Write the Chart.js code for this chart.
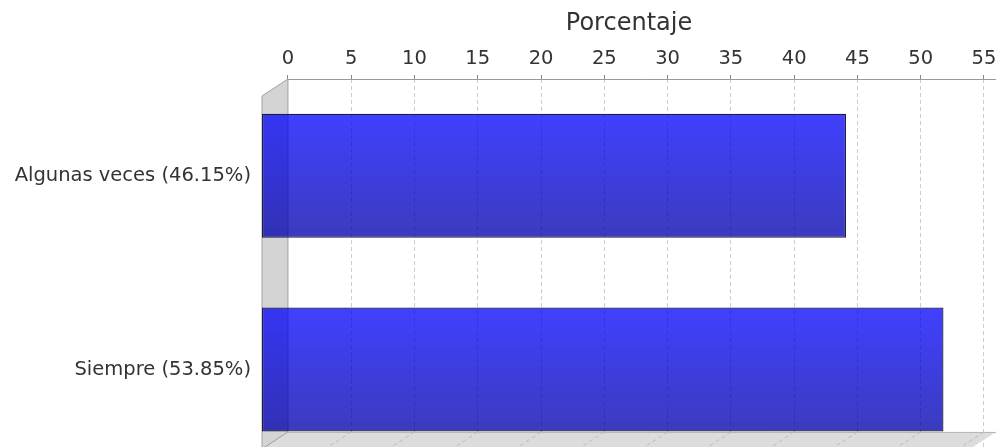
<!DOCTYPE html>
<html>
<head>
<meta charset="utf-8">
<script src="https://cdn.jsdelivr.net/npm/chart.js@4.4.0/dist/chart.umd.min.js"></script>
<style>
  html, body { margin: 0; padding: 0; background: #fff; overflow: hidden; }
</style>
</head>
<body>
<canvas id="respuestasChart" width="996" height="447"></canvas>
<script>
const categorias = ['Algunas veces (46.15%)', 'Siempre (53.85%)'];
const porcentajes = [46.15, 53.85];
const ticksPorcentaje = [0, 5, 10, 15, 20, 25, 30, 35, 40, 45, 50, 55];

// profundidad del efecto 3D (pared del fondo vs cara frontal)
const DEPTH_Y = 17;
const BAR_PCT = 0.64;
const FRONT_MAX = 1.41;

const respuestasChart = document.getElementById('respuestasChart');
Chart.defaults.font.family = "'DejaVu Sans', sans-serif";
Chart.defaults.color = '#333333';

function barGradient(context) {
  const chart = context.chart;
  const y = chart.scales.y;
  if (!y || !chart.chartArea) return 'rgba(0,0,255,0.75)';
  const center = y.getPixelForValue(context.dataIndex);
  const half = Math.abs(y.getPixelForValue(1) - y.getPixelForValue(0)) * BAR_PCT / 2;
  const g = chart.ctx.createLinearGradient(0, center - half, 0, center + half);
  g.addColorStop(0, 'rgba(0,0,255,0.75)');
  g.addColorStop(1, 'rgba(0,0,170,0.77)');
  return g;
}

const paredes3D = {
  id: 'paredes3D',
  beforeDatasetsDraw(chart) {
    const {ctx, chartArea, scales} = chart;
    const back = scales.x2.getPixelForValue(0);
    const front = scales.x.getPixelForValue(0);
    const dx = back - front;
    const top = chartArea.top;
    const right = chartArea.right;
    const floorBack = scales.y.getPixelForValue(FRONT_MAX) - DEPTH_Y;

    ctx.save();
    // suelo
    ctx.fillStyle = '#dcdcdc';
    ctx.beginPath();
    ctx.moveTo(front, floorBack + DEPTH_Y);
    ctx.lineTo(back, floorBack);
    ctx.lineTo(right, floorBack);
    ctx.lineTo(right - dx, floorBack + DEPTH_Y);
    ctx.closePath();
    ctx.fill();
    ctx.strokeStyle = '#b4b4b4';
    ctx.lineWidth = 1;
    ctx.beginPath();
    ctx.moveTo(back, floorBack + 0.5);
    ctx.lineTo(right, floorBack + 0.5);
    ctx.stroke();

    // lineas de rejilla en el suelo
    ctx.setLineDash([4, 3]);
    ctx.strokeStyle = '#bcbcbc';
    ticksPorcentaje.forEach(v => {
      const xb = scales.x2.getPixelForValue(v);
      ctx.beginPath();
      ctx.moveTo(xb, floorBack);
      ctx.lineTo(xb - dx, floorBack + DEPTH_Y);
      ctx.stroke();
    });
    ctx.setLineDash([]);

    // pared izquierda
    ctx.fillStyle = '#d4d4d4';
    ctx.beginPath();
    ctx.moveTo(front, top + DEPTH_Y);
    ctx.lineTo(back, top);
    ctx.lineTo(back, floorBack);
    ctx.lineTo(front, floorBack + DEPTH_Y);
    ctx.closePath();
    ctx.fill();
    ctx.strokeStyle = '#a0a0a0';
    ctx.stroke();

    // linea del eje superior
    ctx.strokeStyle = '#999999';
    ctx.beginPath();
    ctx.moveTo(back, top + 0.5);
    ctx.lineTo(right, top + 0.5);
    ctx.stroke();
    ctx.restore();
  }
};

new Chart(respuestasChart, {
  type: 'bar',
  data: {
    datasets: [
      {
        label: 'Porcentaje',
        data: porcentajes.map((v, i) => ({x: v, y: i})),
        backgroundColor: barGradient,
        borderColor: '#1e1e3c',
        borderWidth: 1.2,
        borderSkipped: false,
        barPercentage: BAR_PCT,
        categoryPercentage: 1
      }
    ]
  },
  options: {
    indexAxis: 'y',
    responsive: false,
    animation: false,
    layout: { padding: 0, autoPadding: false },
    scales: {
      x: { type: 'linear', min: 0, max: 58, display: false },
      x2: {
        type: 'linear',
        position: 'top',
        min: -2.05,
        max: 55.95,
        afterBuildTicks: s => { s.ticks = ticksPorcentaje.map(v => ({value: v})); },
        afterFit: s => { s.height = 79; s.paddingLeft = 0; s.paddingRight = 0; },
        ticks: { font: { size: 19.5 }, padding: 4, autoSkip: false, maxRotation: 0 },
        grid: { color: '#cccccc', tickColor: '#888888', tickLength: 4, lineWidth: 1 },
        border: { display: false, dash: [4, 3] },
        title: { display: true, text: 'Porcentaje', font: { size: 24 }, padding: { top: 9, bottom: 0 } }
      },
      y: {
        type: 'linear',
        position: 'left',
        reverse: true,
        offset: false,
        min: -0.5,
        max: 1.4,
        afterBuildTicks: s => { s.ticks = categorias.map((c, i) => ({value: i})); },
        afterFit: s => { s.width = 262; s.paddingTop = 0; s.paddingBottom = 0; },
        ticks: {
          font: { size: 19.5 },
          padding: 11,
          autoSkip: false,
          callback: v => categorias[v] ?? ''
        },
        grid: { display: false, drawTicks: false },
        border: { display: false }
      }
    },
    plugins: {
      legend: { display: false },
      tooltip: { enabled: false }
    }
  },
  plugins: [paredes3D]
});
</script>
</body>
</html>
